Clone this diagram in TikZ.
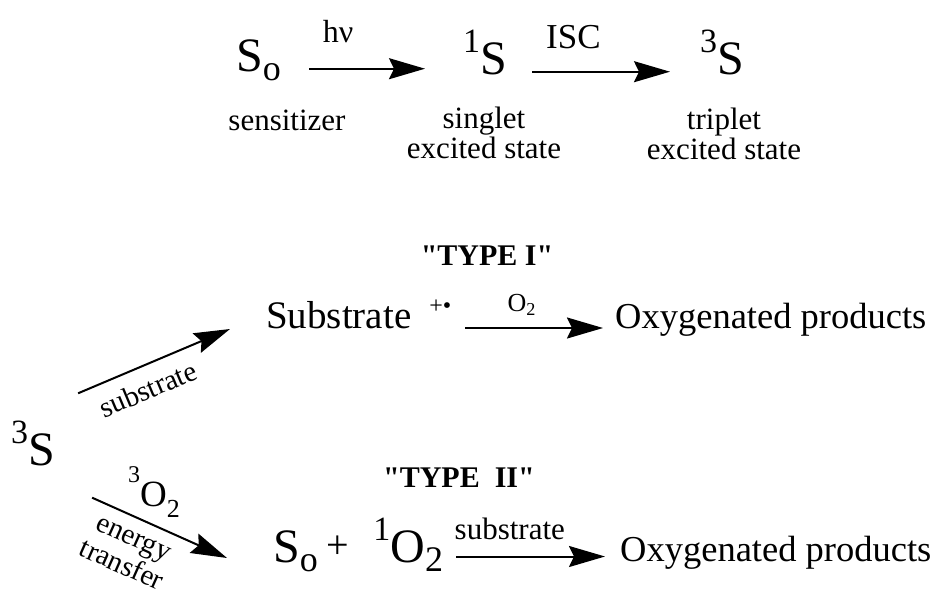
\documentclass[tikz,border=0pt]{standalone}
\usepackage{fontspec}
\setmainfont{Liberation Serif}
\newfontfamily\chemfont{Liberation Serif}
\usetikzlibrary{arrows.meta}

\newcommand{\bigsz}{\chemfont\fontsize{48}{52}\selectfont}
\newcommand{\mainsz}{\chemfont\fontsize{37}{40}\selectfont}
\newcommand{\labsz}{\fontsize{31}{30}\selectfont}
\newcommand{\upn}[1]{\raisebox{22pt}{\chemfont\fontsize{34}{34}\selectfont #1}}
\newcommand{\dnn}[1]{\raisebox{-9pt}{\chemfont\fontsize{36}{36}\selectfont #1}}
\newcommand{\typesz}{\fontsize{30}{30}\selectfont\bfseries}

\begin{document}
\begin{tikzpicture}[x=1pt, y=-1pt, >={Stealth[length=36pt, width=21pt, inset=5pt]},
    rxn/.style={->, line width=2pt},
    every node/.style={inner sep=0pt}]
    \useasboundingbox (0,0) rectangle (946,598);
    % Excitation of the sensitizer
    \node[anchor=base west, font=\bigsz] (so) at (236,71) {S\dnn{o}};
    \node[anchor=base west, font=\bigsz] (s1) at (463,74) {\upn{1}S};
    \node[anchor=base west, font=\bigsz] (s3) at (700,74) {\upn{3}S};
    \draw[rxn] ([xshift=28pt]so.mid east) -- ([xshift=-38pt]so.mid east -| s1.west)
        node[pos=0.25, above=25pt, font=\fontsize{32}{32}\selectfont] (hv) {hν};
    \draw[rxn] ([xshift=25pt]s1.mid east) -- ([xshift=-30pt]s3.mid west)
        node[pos=0.3, above=22pt, font=\fontsize{35}{35}\selectfont] (isc) {ISC};
    \node[anchor=base, font=\labsz] (lsens) at (287,130) {sensitizer};
    \node[anchor=north, align=center, font=\labsz] (lsing) at (484,107) {singlet\\excited state};
    \node[anchor=north, align=center, font=\labsz] (ltrip) at (724,108) {triplet\\excited state};
    % Type I
    \node[anchor=base, font=\typesz] (typeI) at (487,265) {\textquotedbl TYPE I\textquotedbl};
    \node[anchor=base west, font=\fontsize{39}{40}\selectfont] (sub) at (266,328)
        {Substrate\hspace{18pt}\raisebox{15pt}{\fontsize{24}{24}\selectfont +\textbullet}};
    \node[anchor=base west, font=\fontsize{36.5}{40}\selectfont] (oxyA) at (615,328) {Oxygenated products};
    \draw[rxn] ([xshift=14pt]sub.base east) -- ([xshift=-12pt]sub.base east -| oxyA.west)
        node[pos=0.41, above=12pt, font=\fontsize{26}{26}\selectfont] (o2) {O\textsubscript{2}};
    % Type II
    \node[anchor=base, font=\typesz] (typeII) at (459,487) {\textquotedbl TYPE\ \ II\textquotedbl};
    \node[anchor=base west, font=\bigsz] (soO) at (273,562)
        {S\dnn{o}\hspace{9pt}\raisebox{4pt}{\fontsize{40}{40}\selectfont +}\hspace{24pt}\upn{1}O\dnn{2}};
    \node[anchor=base west, font=\fontsize{36.5}{40}\selectfont] (oxyB) at (620,561) {Oxygenated products};
    \draw[rxn] ([xshift=13pt, yshift=5.5pt]soO.base east) -- ([xshift=-15pt, yshift=5.5pt]soO.base east -| oxyB.west)
        node[pos=0.36, above=16pt, font=\labsz] (lsubB) {substrate};
    % Branching from the triplet
    \node[anchor=base west, font=\bigsz] (s3l) at (11,465) {\upn{3}S};
    \draw[rxn] ([shift={(23pt,27pt)}]s3l.north east) -- ([shift={(-36pt,-1pt)}]sub.base west)
        node[pos=0.4, sloped, below=12pt, font=\fontsize{29}{30}\selectfont] (lsubA) {substrate};
    \draw[rxn] ([shift={(37pt,-32pt)}]s3l.south east) -- ([shift={(-46pt,4pt)}]soO.base west)
        node[pos=0.37, sloped, below=12pt, align=center, font=\fontsize{29}{30}\selectfont] (let) {energy\\transfer}
        node[pos=0.37, anchor=south, shift={(12pt,1.6pt)}, font=\mainsz] (o23)
            {\raisebox{24pt}{\chemfont\fontsize{24}{24}\selectfont 3}O\raisebox{-11pt}{\chemfont\fontsize{26}{26}\selectfont 2}};
\end{tikzpicture}
\end{document}
